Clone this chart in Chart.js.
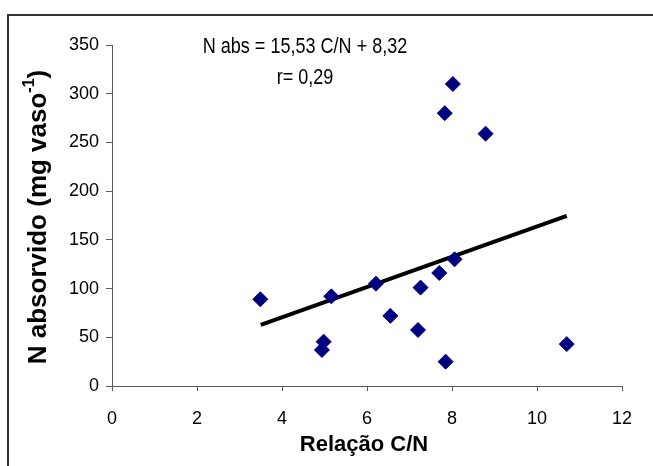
<!DOCTYPE html>
<html>
<head>
<meta charset="utf-8">
<script src="https://cdn.jsdelivr.net/npm/chart.js@4/dist/chart.umd.min.js"></script>
<style>
  body { margin: 0; background: #fff; }
  #wrap { width: 653px; height: 466px; position: relative; }
</style>
</head>
<body>
<div id="wrap"><canvas id="cnChart"></canvas></div>
<script>
// Relação C/N (x) vs N absorvido (y)
const relacaoCN = [3.49, 5.16, 4.98, 4.94, 6.21, 6.55, 7.26, 7.20, 7.70, 8.06, 7.85, 7.83, 8.02, 8.79, 10.7];
const nAbsorvido = [89, 92, 45.5, 37, 105, 72, 101, 57.5, 116, 130, 25, 280, 310, 259, 43];

// trend line ends as drawn in the picture
const trendX = [3.5, 10.7];
const trendY = [62.7, 174.5];

const xTicks = [0, 2, 4, 6, 8, 10, 12];
const yTicks = [0, 50, 100, 150, 200, 250, 300, 350];

const equationText = 'N abs = 15,53 C/N + 8,32';
const rText = 'r= 0,29';

const FONT = '"Liberation Sans", Arial, sans-serif';
const AXIS_COLOR = '#5a5a5a';

// frame + annotation + axis titles (needs superscript, so drawn by hand)
const extrasPlugin = {
    id: 'extras',
    afterDraw(chart) {
        const ctx = chart.ctx;
        ctx.save();

        // outer frame, only top and left show in the picture
        ctx.strokeStyle = '#333';
        ctx.lineWidth = 2;
        ctx.beginPath();
        ctx.moveTo(8, 466);
        ctx.lineTo(8, 15);
        ctx.lineTo(653, 15);
        ctx.stroke();

        ctx.fillStyle = '#000';
        ctx.textAlign = 'center';
        ctx.textBaseline = 'middle';

        // equation and r, condensed like the original
        ctx.font = '22px ' + FONT;
        [[equationText, 47], [rText, 78]].forEach(([t, y]) => {
            ctx.save();
            ctx.translate(305, y);
            ctx.scale(0.82, 1);
            ctx.fillText(t, 0, 0);
            ctx.restore();
        });

        // x title
        ctx.font = 'bold 22px ' + FONT;
        ctx.fillText('Relação C/N', 364, 445);

        // y title with superscript -1
        const main = 'N absorvido (mg vaso';
        const sup = '-1';
        const tail = ')';
        ctx.font = 'bold 26px ' + FONT;
        const wMain = ctx.measureText(main).width;
        const wTail = ctx.measureText(tail).width;
        ctx.font = 'bold 16px ' + FONT;
        const wSup = ctx.measureText(sup).width;
        const total = wMain + wSup + wTail;

        ctx.translate(39, 217);
        ctx.rotate(-Math.PI / 2);
        ctx.textAlign = 'left';
        let x = -total / 2;
        ctx.font = 'bold 26px ' + FONT;
        ctx.fillText(main, x, 0);
        x += wMain;
        ctx.font = 'bold 16px ' + FONT;
        ctx.fillText(sup, x, -9);
        x += wSup;
        ctx.font = 'bold 26px ' + FONT;
        ctx.fillText(tail, x, 0);

        ctx.restore();
    }
};

document.addEventListener('DOMContentLoaded', function () {
    const points = relacaoCN.map((x, i) => ({ x: x, y: nAbsorvido[i] }));
    const trend = trendX.map((x, i) => ({ x: x, y: trendY[i] }));

    const ctx = document.getElementById('cnChart').getContext('2d');
    new Chart(ctx, {
        type: 'scatter',
        data: {
            datasets: [{
                label: 'N absorvido',
                data: points,
                pointStyle: 'rectRot',
                pointRadius: 7.5,
                backgroundColor: '#000080',
                borderColor: '#000080',
                borderWidth: 1,
                order: 1
            }, {
                type: 'line',
                label: 'Tendência',
                data: trend,
                borderColor: '#000',
                borderWidth: 4,
                pointRadius: 0,
                fill: false,
                order: 2
            }]
        },
        options: {
            responsive: true,
            maintainAspectRatio: false,
            animation: false,
            layout: { padding: { top: 45, right: 31, left: 0, bottom: 0 } },
            plugins: {
                legend: { display: false },
                tooltip: { enabled: false }
            },
            scales: {
                x: {
                    type: 'linear',
                    min: 0,
                    max: 12,
                    afterBuildTicks: (s) => { s.ticks = xTicks.map(v => ({ value: v })); },
                    afterFit: (s) => { s.height = 80; },
                    ticks: {
                        color: '#000',
                        padding: 17,
                        font: { family: FONT, size: 18 }
                    },
                    grid: { drawOnChartArea: false, drawTicks: true, tickLength: 5, color: AXIS_COLOR },
                    border: { color: AXIS_COLOR, width: 1 }
                },
                y: {
                    min: 0,
                    max: 350,
                    afterBuildTicks: (s) => { s.ticks = yTicks.map(v => ({ value: v })); },
                    afterFit: (s) => { s.width = 112; },
                    ticks: {
                        color: '#000',
                        padding: 7,
                        font: { family: FONT, size: 18 }
                    },
                    grid: { drawOnChartArea: false, drawTicks: true, tickLength: 6, color: AXIS_COLOR },
                    border: { color: AXIS_COLOR, width: 1 }
                }
            }
        },
        plugins: [extrasPlugin]
    });
});
</script>
</body>
</html>
